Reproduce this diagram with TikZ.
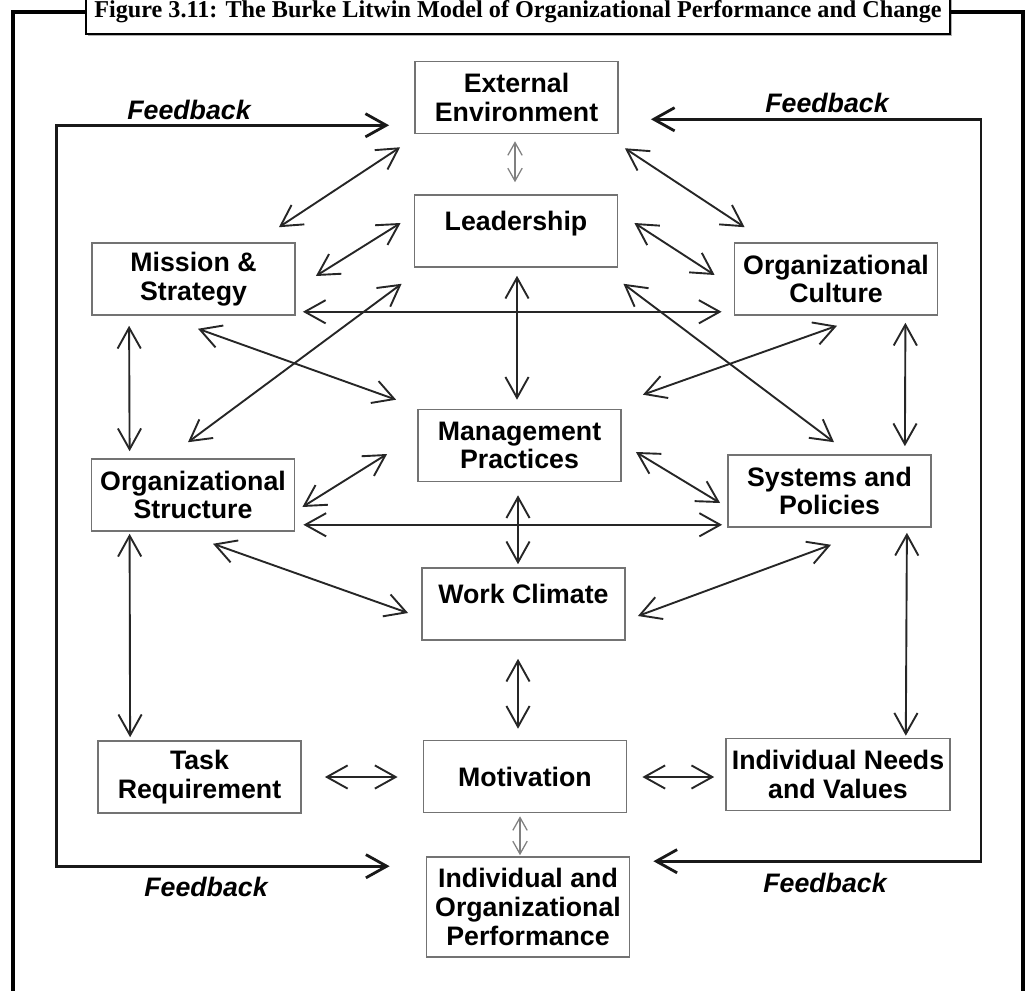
\documentclass[tikz,border=0pt]{standalone}
\usepackage{fontspec}
\setmainfont{Liberation Serif}
\setsansfont{Liberation Sans}
\usetikzlibrary{arrows.meta, shadows}

\begin{document}
\begin{tikzpicture}[
  x=0.025cm, y=-0.025cm,
  >={Straight Barb[length=5.2mm, width=5.8mm]},
  every node/.style={text=black},
  box/.style={draw=black!55, line width=1.1pt, minimum width=5.08cm, minimum height=1.8cm, align=center, inner sep=1pt, font=\sffamily\bfseries\fontsize{19}{20.5}\selectfont},
  link/.style={<->, black!85, line width=1.35pt},
  faint/.style={{Straight Barb[length=3.2mm, width=3.6mm]}-{Straight Barb[length=3.2mm, width=3.6mm]}, black!50, line width=0.9pt},
  feedback/.style={<->, black!90, line width=2pt},
  fblabel/.style={font=\sffamily\bfseries\itshape\fontsize{19}{20.5}\selectfont},
  frame/.style={black, line width=2.2pt},
]

\useasboundingbox (0,0) rectangle (1029,990);

% Title
\node[draw, line width=1.6pt, fill=white, minimum width=21.6cm, minimum height=1.1cm,
  drop shadow={shadow xshift=1.2pt, shadow yshift=-1.2pt, fill=black!60},
  font=\bfseries\fontsize{17.2}{19}\selectfont] (title) at (518,12)
  {Figure 3.11: The Burke Litwin Model of Organizational Performance and Change};

% Frame
\draw[frame] (title.west) -| (13,995);
\draw[frame] (title.east) -| (1023,995);

% Boxes
\node[box] (ext) at (516.5,97.5) {External\\Environment};
\node[box, text depth=14pt] (lead) at (516,231) {Leadership};
\node[box] (mis) at (193.5,279) {Mission \&\\Strategy};
\node[box] (cult) at (836,279) {Organizational\\Culture};
\node[box] (mgmt) at (519.5,445.5) {Management\\Practices};
\node[box] (struct) at (193,495) {Organizational\\Structure};
\node[box] (sys) at (829.5,491) {Systems and\\Policies};
\node[box, text depth=14pt] (clim) at (523.5,604) {Work Climate};
\node[box] (task) at (199.5,777) {Task\\Requirement};
\node[box] (motiv) at (525,776.5) {Motivation};
\node[box, minimum width=5.6cm] (needs) at (838,774.5) {Individual Needs\\and Values};
\node[box, minimum height=2.5cm] (perf) at (528,907) {Individual and\\Organizational\\Performance};

% Links
\draw[faint] ([shift={(-1.5,7)}]ext.south) -- ([shift={(-1,-12)}]lead.north);
\draw[link] ([shift={(-14,13)}]ext.south west) -- ([shift={(-17,-15)}]mis.north east);
\draw[link] ([shift={(-13,-8)}]lead.west) -- ([shift={(20,-3)}]mis.east);
\draw[link] ([shift={(7,-4)}]mis.south east) -- ([shift={(-12,-4)}]cult.south west);
\draw[link] ([shift={(-12,16)}]lead.south west) -- ([shift={(-5,-16)}]struct.north);
\draw[link] ([shift={(4.5,13)}]mis.south) -- ([shift={(-21,-9)}]mgmt.north west);
\draw[link] ([shift={(6,14)}]ext.south east) -- ([shift={(11,-15)}]cult.north west);
\draw[link] ([shift={(16,-8)}]lead.east) -- ([shift={(-19,-4)}]cult.west);
\draw[link] ([shift={(5,16)}]lead.south east) -- ([shift={(4.5,-12)}]sys.north);
\draw[link] ([shift={(1,10)}]cult.south) -- ([shift={(21,-14)}]mgmt.north east);
\draw[link] ([shift={(1,8)}]lead.south) -- ([shift={(-2.5,-9)}]mgmt.north);
\draw[link] ([shift={(38,10)}]mis.south west) -- ([shift={(39,-7)}]struct.north west);
\draw[link] ([shift={(-33,7)}]cult.south east) -- ([shift={(-27,-8)}]sys.north east);
\draw[link] ([shift={(-30,8.5)}]mgmt.west) -- ([shift={(7,12)}]struct.east);
\draw[link] ([shift={(14,6.5)}]mgmt.east) -- ([shift={(-7,12)}]sys.west);
\draw[link] ([shift={(8,-7)}]struct.south east) -- ([shift={(-5,-3)}]sys.south west);
\draw[link] ([shift={(-1.5,13)}]mgmt.south) -- ([shift={(-5.5,-3)}]clim.north);
\draw[link] ([shift={(20,12)}]struct.south) -- ([shift={(-13,9)}]clim.west);
\draw[link] ([shift={(1.5,17)}]sys.south) -- ([shift={(12,12)}]clim.east);
\draw[link] ([shift={(39,2)}]struct.south west) -- ([shift={(33,-3)}]task.north west);
\draw[link] ([shift={(-25,5)}]sys.south east) -- ([shift={(-45,-2)}]needs.north east);
\draw[link] ([shift={(-5.5,18)}]clim.south) -- ([shift={(-7,-11)}]motiv.north);
\draw[link] ([shift={(23,0)}]task.east) -- ([shift={(-25,0.5)}]motiv.west);
\draw[link] ([shift={(15,0.5)}]motiv.east) -- ([shift={(-11,2.5)}]needs.west);
\draw[faint] ([shift={(-5,3)}]motiv.south) -- ([shift={(-8,-1)}]perf.north);

% Feedback loops
\draw[feedback] ([shift={(-25,-9)}]ext.south west) -- ++(-333,0) |- ([shift={(-36,10)}]perf.north west);
\draw[feedback] ([shift={(32,-15)}]ext.south east) -- ++(330,0) |- ([shift={(23,5)}]perf.north east);
\node[fblabel] (fbTL) at (189,110) {Feedback};
\node[fblabel] (fbTR) at (827,103) {Feedback};
\node[fblabel] (fbBL) at (206,887) {Feedback};
\node[fblabel] (fbBR) at (825,883) {Feedback};

\end{tikzpicture}
\end{document}
